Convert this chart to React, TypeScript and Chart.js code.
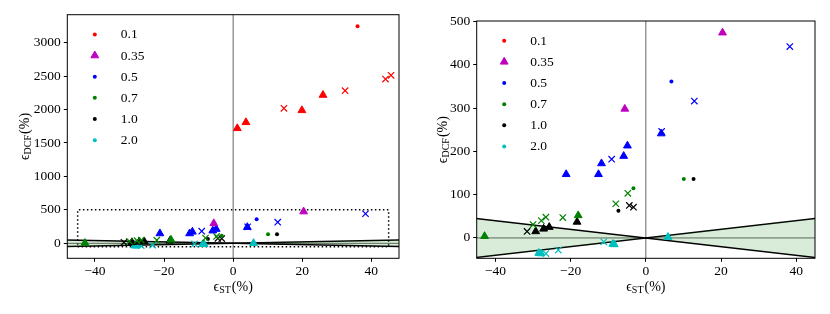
import React, { useEffect, useRef } from 'react';
import { Chart, registerables } from 'chart.js';

Chart.register(...registerables);

const FONT = "'Liberation Serif', 'DejaVu Serif', serif";

// ---- legend ----
const LEGEND_LABELS = ['0.1', '0.35', '0.5', '0.7', '1.0', '2.0'];
const LEGEND_COLORS = ['#ff0000', '#bf00bf', '#0000ff', '#008000', '#000000', '#00bfbf'];
const LEGEND_MARKERS = ['circle', 'triangle', 'circle', 'circle', 'circle', 'circle'];

// ---- series (eps_ST %, eps_DCF %) ----
const redDotX = [36.0];
const redDotY = [3244];
const redTriX = [1.2, 3.7, 19.9, 26.0];
const redTriY = [1719, 1809, 1988, 2217];
const redCrossX = [14.7, 32.4, 44.1, 45.7];
const redCrossY = [2018, 2282, 2456, 2511];

const magTriX = [-5.6, 20.4];
const magTriY = [298, 474];

const blueDotX = [6.8];
const blueDotY = [361];
const blueTriX = [-21.2, -12.6, -11.8, -5.9, -4.9, 4.1];
const blueTriY = [147, 147, 172, 189, 213, 241];
const blueCrossX = [-9.1, 4.2, 12.9, 38.3];
const blueCrossY = [182, 246, 316, 442];

const greenDotX = [-3.3, 10.1];
const greenDotY = [115, 136];
const greenTriX = [-42.9, -18.0];
const greenTriY = [4, 52];
const greenCrossX = [-30.0, -27.8, -26.6, -22.1, -8.0, -4.8];
const greenCrossY = [31, 40, 48, 47, 79, 103];

const blackDotX = [-7.3, 12.7];
const blackDotY = [63, 136];
const blackTriX = [-29.3, -27.2, -25.7, -18.3];
const blackTriY = [15, 21, 25, 37];
const blackCrossX = [-31.6, -4.4, -3.3];
const blackCrossY = [15, 75, 71];

const cyanTriX = [-28.5, -27.9, -8.8, -8.4, 5.9];
const cyanTriY = [-35, -36, -14, -15, 2];
const cyanCrossX = [-26.6, -23.3, -11.2];
const cyanCrossY = [-36, -28, -9];

// ---- reference geometry (data units) ----
const CROSS_LINE_A_X = [-50, 50];
const CROSS_LINE_A_Y = [50, -50];
const CROSS_LINE_B_X = [-50, 50];
const CROSS_LINE_B_Y = [-50, 50];
const ZERO_H_X = [-60, 60];
const ZERO_H_Y = [0, 0];
const ZERO_V_X = [0, 0];
const ZERO_V_Y = [-1000, 5000];
const RECT_X = [-45, 45, 45, -45, -45];
const RECT_Y = [-50, -50, 500, 500, -50];

// ---- ticks / ranges ----
const X_TICKS = [-40, -20, 0, 20, 40];
const LEFT_Y_TICKS = [0, 500, 1000, 1500, 2000, 2500, 3000];
const RIGHT_Y_TICKS = [0, 100, 200, 300, 400, 500];
const LEFT_X_RANGE = [-48, 48];
const LEFT_Y_RANGE = [-224, 3418];
const RIGHT_X_RANGE = [-45, 45];
const RIGHT_Y_RANGE = [-47, 501];

const SERIES = [
  { xs: redDotX, ys: redDotY, color: LEGEND_COLORS[0], marker: 'circle' },
  { xs: redTriX, ys: redTriY, color: LEGEND_COLORS[0], marker: 'triangle' },
  { xs: redCrossX, ys: redCrossY, color: LEGEND_COLORS[0], marker: 'crossRot' },
  { xs: magTriX, ys: magTriY, color: LEGEND_COLORS[1], marker: 'triangle' },
  { xs: blueDotX, ys: blueDotY, color: LEGEND_COLORS[2], marker: 'circle' },
  { xs: blueTriX, ys: blueTriY, color: LEGEND_COLORS[2], marker: 'triangle' },
  { xs: blueCrossX, ys: blueCrossY, color: LEGEND_COLORS[2], marker: 'crossRot' },
  { xs: greenDotX, ys: greenDotY, color: LEGEND_COLORS[3], marker: 'circle' },
  { xs: greenTriX, ys: greenTriY, color: LEGEND_COLORS[3], marker: 'triangle' },
  { xs: greenCrossX, ys: greenCrossY, color: LEGEND_COLORS[3], marker: 'crossRot' },
  { xs: blackDotX, ys: blackDotY, color: LEGEND_COLORS[4], marker: 'circle' },
  { xs: blackTriX, ys: blackTriY, color: LEGEND_COLORS[4], marker: 'triangle' },
  { xs: blackCrossX, ys: blackCrossY, color: LEGEND_COLORS[4], marker: 'crossRot' },
  { xs: cyanTriX, ys: cyanTriY, color: LEGEND_COLORS[5], marker: 'triangle' },
  { xs: cyanCrossX, ys: cyanCrossY, color: LEGEND_COLORS[5], marker: 'crossRot' },
];

const pts = (xs: number[], ys: number[]) => xs.map((x, i) => ({ x, y: ys[i] }));
const fmt = (v: any) => (Number(v) < 0 ? '\u2212' + Math.abs(Number(v)) : String(v));

const markerRadius = (m: string) => (m === 'circle' ? 2 : 4.5);

function drawMarker(ctx: CanvasRenderingContext2D, m: string, x: number, y: number, color: string) {
  ctx.save();
  ctx.fillStyle = color;
  ctx.strokeStyle = color;
  if (m === 'circle') {
    ctx.beginPath();
    ctx.arc(x, y, 2, 0, Math.PI * 2);
    ctx.fill();
  } else if (m === 'triangle') {
    const r = 4.5;
    ctx.beginPath();
    ctx.moveTo(x, y - r);
    ctx.lineTo(x + r * Math.sin((2 * Math.PI) / 3), y - r * Math.cos((2 * Math.PI) / 3));
    ctx.lineTo(x + r * Math.sin((4 * Math.PI) / 3), y - r * Math.cos((4 * Math.PI) / 3));
    ctx.closePath();
    ctx.fill();
    ctx.lineWidth = 1;
    ctx.stroke();
  }
  ctx.restore();
}

function drawLabel(
  ctx: CanvasRenderingContext2D,
  cx: number,
  cy: number,
  sub: string,
  rotate: boolean
) {
  ctx.save();
  ctx.translate(cx, cy);
  if (rotate) ctx.rotate(-Math.PI / 2);
  ctx.fillStyle = '#000';
  ctx.textBaseline = 'middle';
  ctx.textAlign = 'left';
  const mainFont = `14px ${FONT}`;
  const subFont = `10px ${FONT}`;
  ctx.font = mainFont;
  const w1 = ctx.measureText('\u03F5').width;
  const w3 = ctx.measureText('(%)').width;
  ctx.font = subFont;
  const w2 = ctx.measureText(sub).width;
  const total = w1 + w2 + w3 + 1;
  let x = -total / 2;
  ctx.font = mainFont;
  ctx.fillText('\u03F5', x, 0);
  x += w1;
  ctx.font = subFont;
  ctx.fillText(sub, x, 3);
  x += w2 + 1;
  ctx.font = mainFont;
  ctx.fillText('(%)', x, 0);
  ctx.restore();
}

type ChartOpts = {
  xRange: number[];
  yRange: number[];
  yTicks: number[];
  yAxisWidth: number;
  padTop: number;
  padRight: number;
  xAxisHeight: number;
  showRect: boolean;
  yTitleX: number;
};

function buildConfig(o: ChartOpts): any {
  const datasets: any[] = [];
  SERIES.forEach((s) => {
    datasets.push({
      type: 'scatter',
      data: pts(s.xs, s.ys),
      showLine: false,
      pointStyle: s.marker,
      pointRadius: markerRadius(s.marker),
      pointHoverRadius: markerRadius(s.marker),
      pointBackgroundColor: s.color,
      pointBorderColor: s.color,
      pointBorderWidth: s.marker === 'circle' ? 0 : s.marker === 'crossRot' ? 1.2 : 1,
    });
  });
  const lineBase = { type: 'scatter', showLine: true, pointRadius: 0, pointHoverRadius: 0, clip: 0, tension: 0 };
  datasets.push({
    ...lineBase,
    data: pts(CROSS_LINE_A_X, CROSS_LINE_A_Y),
    borderColor: '#000',
    borderWidth: 1.5,
    backgroundColor: 'rgba(0,128,0,0.15)',
    fill: '+1',
  });
  datasets.push({
    ...lineBase,
    data: pts(CROSS_LINE_B_X, CROSS_LINE_B_Y),
    borderColor: '#000',
    borderWidth: 1.5,
    fill: false,
  });
  datasets.push({ ...lineBase, data: pts(ZERO_H_X, ZERO_H_Y), borderColor: '#555', borderWidth: 0.9, fill: false });
  datasets.push({ ...lineBase, data: pts(ZERO_V_X, ZERO_V_Y), borderColor: '#555', borderWidth: 0.9, fill: false });
  if (o.showRect) {
    datasets.push({
      ...lineBase,
      data: pts(RECT_X, RECT_Y),
      borderColor: '#000',
      borderWidth: 1.5,
      borderDash: [1.5, 2.5],
      fill: false,
    });
  }

  const framePlugin = {
    id: 'frame',
    afterDatasetsDraw(chart: any) {
      const { ctx, chartArea: a } = chart;
      ctx.save();
      ctx.strokeStyle = '#000';
      ctx.lineWidth = 1;
      ctx.strokeRect(a.left, a.top, a.right - a.left, a.bottom - a.top);
      ctx.restore();
    },
  };

  const legendPlugin = {
    id: 'innerLegend',
    afterDraw(chart: any) {
      const { ctx, chartArea: a } = chart;
      ctx.save();
      LEGEND_LABELS.forEach((lab, i) => {
        const y = a.top + 19.7 + i * 21.15;
        drawMarker(ctx, LEGEND_MARKERS[i], a.left + 27.5, y, LEGEND_COLORS[i]);
        ctx.fillStyle = '#000';
        ctx.font = `13.5px ${FONT}`;
        ctx.textBaseline = 'middle';
        ctx.textAlign = 'left';
        ctx.fillText(lab, a.left + 53.5, y + 0.5);
      });
      ctx.restore();
    },
  };

  const titlePlugin = {
    id: 'axisTitles',
    afterDraw(chart: any) {
      const { ctx, chartArea: a } = chart;
      drawLabel(ctx, (a.left + a.right) / 2, a.bottom + 29, 'ST', false);
      drawLabel(ctx, o.yTitleX, (a.top + a.bottom) / 2, 'DCF', true);
    },
  };

  const tickFont = { family: FONT, size: 13.5 };

  return {
    type: 'scatter',
    data: { datasets },
    options: {
      animation: false,
      responsive: false,
      devicePixelRatio: 1,
      events: [],
      layout: { padding: { top: o.padTop, right: o.padRight, left: 0, bottom: 0 } },
      plugins: {
        legend: { display: false },
        tooltip: { enabled: false },
        title: { display: false },
      },
      scales: {
        x: {
          type: 'linear',
          min: o.xRange[0],
          max: o.xRange[1],
          afterBuildTicks: (s: any) => {
            s.ticks = X_TICKS.map((v) => ({ value: v }));
          },
          afterFit: (s: any) => {
            s.height = o.xAxisHeight;
          },
          ticks: {
            callback: (v: any) => fmt(v),
            font: tickFont,
            color: '#000',
            padding: 2,
            maxRotation: 0,
            autoSkip: false,
          },
          grid: { drawOnChartArea: false, drawTicks: true, tickLength: 3.5, color: '#000', lineWidth: 1 },
          border: { display: false },
        },
        y: {
          type: 'linear',
          min: o.yRange[0],
          max: o.yRange[1],
          afterBuildTicks: (s: any) => {
            s.ticks = o.yTicks.map((v) => ({ value: v }));
          },
          afterFit: (s: any) => {
            s.width = o.yAxisWidth;
          },
          ticks: {
            callback: (v: any) => fmt(v),
            font: tickFont,
            color: '#000',
            padding: 3,
            autoSkip: false,
          },
          grid: { drawOnChartArea: false, drawTicks: true, tickLength: 3.5, color: '#000', lineWidth: 1 },
          border: { display: false },
        },
      },
    },
    plugins: [framePlugin, legendPlugin, titlePlugin],
  };
}

function Panel(props: { opts: ChartOpts; left: number }) {
  const ref = useRef<HTMLCanvasElement | null>(null);
  useEffect(() => {
    if (!ref.current) return;
    const chart = new Chart(ref.current, buildConfig(props.opts));
    return () => chart.destroy();
  }, []);
  return (
    <canvas
      ref={ref}
      width={415}
      height={314}
      style={{ position: 'absolute', left: props.left, top: 0, width: 415, height: 314, display: 'block' }}
    />
  );
}

export default function App() {
  const leftOpts: ChartOpts = {
    xRange: LEFT_X_RANGE,
    yRange: LEFT_Y_RANGE,
    yTicks: LEFT_Y_TICKS,
    yAxisWidth: 67.3,
    padTop: 14.7,
    padRight: 16,
    xAxisHeight: 55.7,
    showRect: true,
    yTitleX: 25,
  };
  const rightOpts: ChartOpts = {
    xRange: RIGHT_X_RANGE,
    yRange: RIGHT_Y_RANGE,
    yTicks: RIGHT_Y_TICKS,
    yAxisWidth: 61.7,
    padTop: 21,
    padRight: 15,
    xAxisHeight: 55.7,
    showRect: false,
    yTitleX: 28,
  };
  return (
    <div style={{ position: 'absolute', left: 0, top: 0, width: 830, height: 314, background: '#fff' }}>
      <Panel opts={leftOpts} left={0} />
      <Panel opts={rightOpts} left={415} />
    </div>
  );
}
